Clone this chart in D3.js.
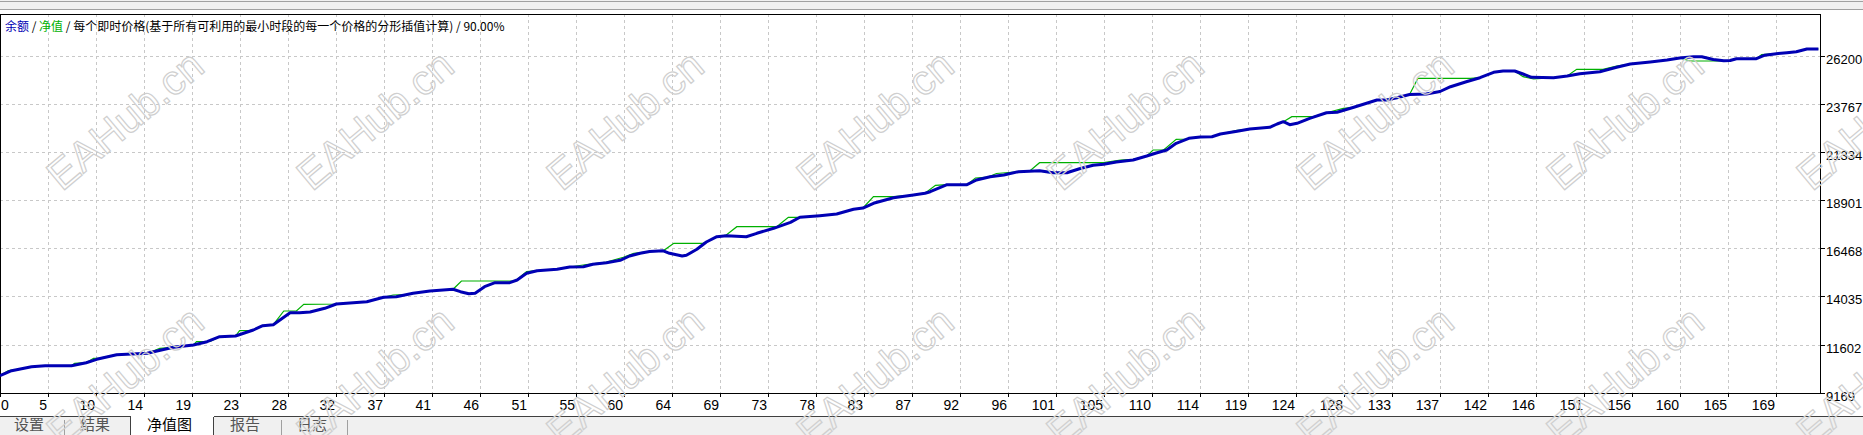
<!DOCTYPE html>
<html><head><meta charset="utf-8">
<script src="https://cdn.jsdelivr.net/npm/d3@7/dist/d3.min.js"></script>
<style>html,body{margin:0;padding:0;background:#fff;overflow:hidden}</style>
</head><body>
<svg id="c" width="1863" height="435"></svg>
<script>
// ---------- data ----------
const tradeTicks = [0,5,10,14,19,23,28,32,37,41,46,51,55,60,64,69,73,78,83,87,92,96,101,105,110,114,119,124,128,133,137,142,146,151,156,160,165,169];
const valueTicks = [9169,11602,14035,16468,18901,21334,23767,26200];

const balanceTrade = [0,1.1,3.0,4.3,6.8,8.2,9.2,11.1,14.0,16.5,18.4,19.7,20.9,22.4,24.1,25.0,26.0,27.6,28.5,29.5,30.9,32.0,34.9,36.5,37.7,39.3,40.9,43.1,43.8,44.6,45.2,46.1,47.1,48.5,49.2,50.1,51.1,53.0,54.2,55.5,56.4,57.7,59.0,59.9,60.9,61.8,63.1,63.7,64.9,65.3,66.3,67.2,68.2,69.1,71.0,72.0,73.6,75.2,76.1,78.0,79.6,81.2,82.1,83.1,85.0,86.9,88.0,88.5,90.1,92.0,92.9,94.2,95.5,96.9,98.9,100.2,101.5,102.7,104.0,105.0,106.2,107.8,109.1,110.0,111.0,111.9,113.1,114.2,115.3,116.1,117.7,118.9,120.8,121.5,122.1,122.7,123.4,124.6,126.2,127.2,128.8,131.0,131.9,132.9,134.1,135.7,137.0,138.0,139.5,140.8,142.1,143.0,144.1,144.9,145.7,147.8,149.1,150.3,152.2,153.8,155.1,157.0,158.6,159.8,161.1,161.9,163.0,164.0,164.6,165.2,167.1,167.9,169.0,170.0,170.9,171.9,173.0];
const balanceValue = [10029,10282,10484,10535,10535,10686,10858,11091,11162,11465,11582,11749,12001,12037,12340,12558,12608,13215,13215,13251,13438,13656,13772,13994,14025,14197,14313,14399,14278,14176,14197,14530,14733,14733,14869,15208,15340,15411,15527,15542,15663,15744,15866,16083,16220,16311,16346,16220,16083,16119,16422,16791,17059,17110,17059,17231,17484,17788,18041,18122,18208,18446,18511,18749,19032,19169,19255,19336,19690,19690,19927,20094,20180,20347,20398,20297,20297,20499,20671,20721,20838,20939,21141,21293,21445,21784,22037,22102,22117,22254,22391,22507,22593,22760,22876,22724,22795,23048,23331,23352,23605,23974,23974,24090,24252,24277,24404,24646,24899,25102,25375,25440,25440,25289,25122,25102,25188,25304,25405,25628,25795,25896,25997,26098,26164,26164,26022,25962,25972,26063,26063,26240,26316,26366,26412,26554,26554];

const equityTrade = [0,0.8,1.9,3.0,4.3,6.8,7.1,8.2,8.9,9.5,11.1,14.0,14.4,15.2,16.5,18.4,18.7,20.0,20.9,22.4,22.8,23.8,24.1,25.0,26.0,27.0,28.2,28.9,32.0,34.9,36.5,37.4,38.7,39.3,40.9,43.1,43.9,48.8,49.2,49.5,50.1,51.1,53.0,54.2,55.8,57.7,59.3,60.3,61.8,63.1,64.1,66.9,67.2,68.2,69.1,70.1,73.9,74.3,75.0,76.1,78.0,79.6,81.2,82.1,83.1,85.0,86.9,88.0,89.0,90.1,92.0,92.8,94.0,94.8,96.9,98.0,98.9,105.0,106.6,107.8,109.1,109.7,110.7,111.9,112.9,114.2,115.3,116.1,117.7,120.8,122.1,122.9,124.9,126.2,127.8,128.8,131.0,131.9,132.9,134.1,134.9,139.9,140.8,142.1,143.0,144.1,144.9,145.9,147.8,149.1,150.0,152.5,153.8,155.1,157.0,158.6,159.8,160.8,163.6,164.6,165.2,167.1,167.6,169.0,170.0,170.9,171.9,173.0];
const equityValue = [10029,10292,10353,10484,10535,10535,10656,10686,10909,10924,11091,11162,11243,11415,11465,11582,11749,11769,12001,12037,12305,12326,12340,12558,12608,13301,13301,13640,13656,13772,13994,14111,14136,14197,14313,14399,14819,14819,14869,15036,15290,15340,15411,15527,15654,15780,16018,16220,16311,16346,16725,16725,16791,17059,17146,17566,17566,17737,18041,18041,18122,18208,18446,18511,19083,19083,19169,19255,19659,19690,19690,20029,20079,20256,20347,20398,20803,20803,20939,20975,21141,21445,21445,21986,22001,22102,22117,22254,22441,22608,22876,23129,23129,23331,23554,23605,23974,23999,24101,24252,25072,25072,25102,25375,25440,25440,25152,25036,25102,25188,25527,25527,25694,25795,25896,25997,26098,25947,25947,25972,26063,26063,26275,26316,26366,26412,26554,26554];

const legendParts = [
  {t:"余额", c:"#0000b4"},
  {t:" / ", c:"#000"},
  {t:"净值", c:"#00b000"},
  {t:" / 每个即时价格(基于所有可利用的最小时段的每一个价格的分形插值计算) / 90.00%", c:"#000"}
];
const tabLabels = ["设置","结果","净值图","报告","日志"];
const watermark = "EAHub.cn";

// ---------- layout ----------
const W = 1863, H = 435;
const L = 0, T = 14, R = 1820, B = 392.7;
const svg = d3.select("#c");

// top strip
svg.append("rect").attr("x",0).attr("y",0).attr("width",W).attr("height",10).attr("fill","#f0f0f0");
svg.append("line").attr("x1",0).attr("x2",W).attr("y1",1.5).attr("y2",1.5).attr("stroke","#a0a0a0");
svg.append("line").attr("x1",0).attr("x2",W).attr("y1",9.5).attr("y2",9.5).attr("stroke","#a0a0a0");

const x = d3.scaleLinear().domain([0, 173.15]).range([L, R]);
const y = d3.scaleLinear().domain([9169, 28324]).range([B, T]);
const px = v => Math.round(v) + 0.5;

// grid
const g = svg.append("g").attr("shape-rendering","crispEdges");
const tickStep = 169 / (tradeTicks.length - 1);
tradeTicks.forEach((lab,i) => {
  const xx = px(x(i*tickStep));
  if (i>0) g.append("line").attr("x1",xx).attr("x2",xx).attr("y1",T).attr("y2",B)
    .attr("stroke","#c8c8c8").attr("stroke-dasharray","3,3");
  g.append("line").attr("x1",xx).attr("x2",xx).attr("y1",393).attr("y2",397).attr("stroke","#000");
  svg.append("text").attr("x", i===0 ? 1 : xx-1.5).attr("y",410)
    .attr("text-anchor", i===0 ? "start":"end")
    .attr("font-family","'Liberation Sans', Arial, sans-serif").attr("font-size",14).attr("fill","#000")
    .text(lab);
});
valueTicks.forEach(v => {
  const yy = px(y(v));
  g.append("line").attr("x1",L).attr("x2",R).attr("y1",yy).attr("y2",yy)
    .attr("stroke","#c8c8c8").attr("stroke-dasharray","3,3");
  g.append("line").attr("x1",R).attr("x2",R+5).attr("y1",yy).attr("y2",yy).attr("stroke","#000");
  svg.append("text").attr("x",1826).attr("y",yy+7)
    .attr("font-family","'Liberation Sans', Arial, sans-serif").attr("font-size",13).attr("fill","#000")
    .text(v);
});

// series
const eqData = equityTrade.map((t,i)=>[t, equityValue[i]]);
const balData = balanceTrade.map((t,i)=>[t, balanceValue[i]]);
const line = d3.line().x(d=>x(d[0])).y(d=>y(d[1]));
svg.append("path").attr("d", line(eqData)).attr("fill","none").attr("stroke","#00b000").attr("stroke-width",1.2);
svg.append("path").attr("d", line(balData)).attr("fill","none").attr("stroke","#0000b4").attr("stroke-width",3).attr("stroke-linejoin","round");

// frame
g.append("rect").attr("x",0.5).attr("y",14.5).attr("width",R-0.5).attr("height",393-14.5)
  .attr("fill","none").attr("stroke","#000");

// legend
const lt = svg.append("text").attr("x",5).attr("y",31)
  .attr("font-family","'Noto Sans CJK SC', sans-serif").attr("font-size",12);
legendParts.forEach(p => lt.append("tspan").attr("fill",p.c).text(p.t));

// tabs
svg.append("rect").attr("x",0).attr("y",416).attr("width",W).attr("height",H-416).attr("fill","#f0f0f0");
const tg = svg.append("g").attr("shape-rendering","crispEdges");
tg.append("line").attr("x1",0).attr("x2",W).attr("y1",416.5).attr("y2",416.5).attr("stroke","#404040");
tg.append("rect").attr("x",130).attr("y",416).attr("width",83).attr("height",20).attr("fill","#fff");
tg.append("line").attr("x1",130.5).attr("x2",130.5).attr("y1",416).attr("y2",435).attr("stroke","#404040");
tg.append("line").attr("x1",213.5).attr("x2",213.5).attr("y1",416).attr("y2",435).attr("stroke","#404040");
tg.append("line").attr("x1",130.5).attr("x2",213.5).attr("y1",416.5).attr("y2",416.5).attr("stroke","#fff");
[64,281,347].forEach(sx => tg.append("line").attr("x1",sx+0.5).attr("x2",sx+0.5).attr("y1",420).attr("y2",435).attr("stroke","#a0a0a0"));
const tabX = [14,80,147,230,297];
tabLabels.forEach((t,i) => svg.append("text").attr("x",tabX[i]).attr("y",430)
  .attr("font-family","'Noto Sans CJK SC', sans-serif").attr("font-size",15)
  .attr("fill", i===2 ? "#000" : "#555").text(t));

// watermarks
const wm = svg.append("g").attr("pointer-events","none");
[120, 376].forEach(cy => {
  for (let cx = 125; cx < W + 150; cx += 250) {
    wm.append("text").attr("transform",`translate(${cx},${cy}) rotate(-40)`)
      .attr("text-anchor","middle").attr("dominant-baseline","central")
      .attr("font-family","'Liberation Sans', Arial, sans-serif").attr("font-size",42)
      .attr("fill","none").attr("stroke","#cfcfcf").attr("stroke-width",1.2)
      .text(watermark);
  }
});
</script>
</body></html>
